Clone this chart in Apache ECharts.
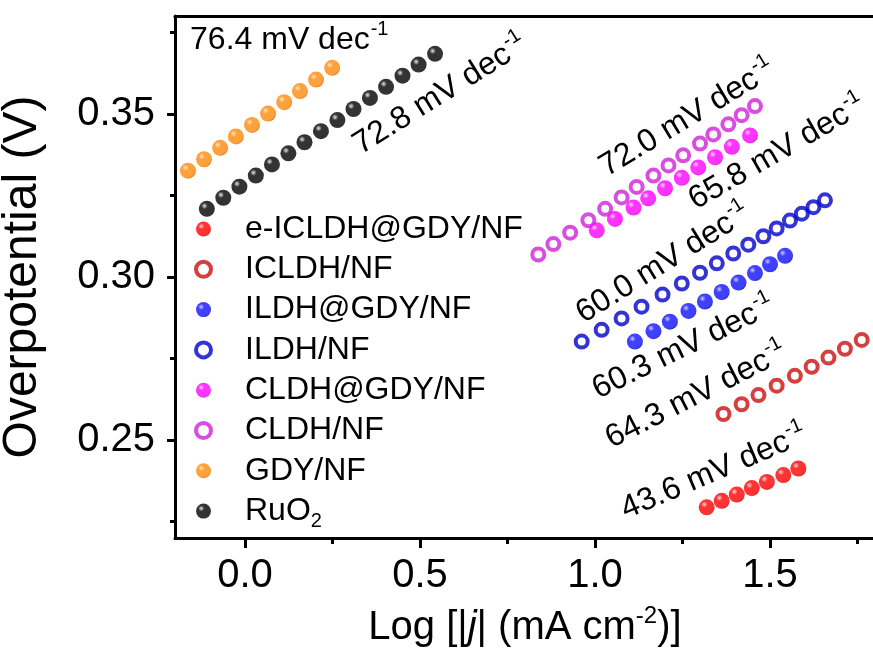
<!DOCTYPE html>
<html lang="en">
<head>
<meta charset="utf-8">
<title>Tafel plots</title>
<script src="https://cdn.jsdelivr.net/npm/echarts@6/dist/echarts.min.js"></script>
<style>
  html, body { margin: 0; padding: 0; background: #fff; }
  #main { width: 873px; height: 652px; }
</style>
</head>
<body>
<div id="main"></div>
<script>
// values: x = log|j|, y = overpotential (V)
var eIcldhGdyX = [1.319, 1.362, 1.405, 1.448, 1.491, 1.538, 1.581];
var eIcldhGdyY = [0.2294, 0.2314, 0.2333, 0.2353, 0.2372, 0.2393, 0.2413];

var icldhX = [1.367, 1.419, 1.467, 1.519, 1.571, 1.619, 1.667, 1.714, 1.762];
var icldhY = [0.2580, 0.2610, 0.2638, 0.2667, 0.2697, 0.2725, 0.2753, 0.2780, 0.2807];

var ildhGdyX = [1.114, 1.167, 1.214, 1.267, 1.314, 1.362, 1.410, 1.457, 1.500, 1.543];
var ildhGdyY = [0.2802, 0.2834, 0.2863, 0.2896, 0.2925, 0.2954, 0.2983, 0.3012, 0.3039, 0.3065];

var ildhX = [0.962, 1.019, 1.076, 1.133, 1.193, 1.248, 1.300, 1.348, 1.395, 1.438, 1.481, 1.519, 1.557, 1.591, 1.624, 1.657];
var ildhY = [0.2802, 0.2838, 0.2873, 0.2909, 0.2946, 0.2980, 0.3013, 0.3042, 0.3072, 0.3099, 0.3125, 0.3149, 0.3173, 0.3194, 0.3214, 0.3235];

var cldhGdyX = [1.005, 1.057, 1.110, 1.152, 1.200, 1.248, 1.295, 1.343, 1.391, 1.443];
var cldhGdyY = [0.3143, 0.3178, 0.3213, 0.3241, 0.3272, 0.3304, 0.3336, 0.3367, 0.3399, 0.3434];

var cldhX = [0.838, 0.881, 0.929, 0.981, 1.029, 1.076, 1.119, 1.167, 1.210, 1.252, 1.300, 1.338, 1.381, 1.419, 1.457];
var cldhY = [0.3069, 0.3101, 0.3136, 0.3174, 0.3209, 0.3244, 0.3276, 0.3311, 0.3342, 0.3373, 0.3409, 0.3437, 0.3468, 0.3496, 0.3524];

var gdyX = [-0.163, -0.117, -0.071, -0.026, 0.020, 0.066, 0.112, 0.157, 0.203, 0.249];
var gdyY = [0.3326, 0.3361, 0.3396, 0.3431, 0.3466, 0.3501, 0.3536, 0.3570, 0.3605, 0.3641];

var ruo2X = [-0.109, -0.062, -0.016, 0.031, 0.077, 0.124, 0.170, 0.217, 0.264, 0.310, 0.357, 0.403, 0.450, 0.496, 0.543];
var ruo2Y = [0.3209, 0.3243, 0.3277, 0.3311, 0.3345, 0.3379, 0.3413, 0.3447, 0.3481, 0.3515, 0.3549, 0.3583, 0.3617, 0.3651, 0.3684];

var seriesNames = ['e-ICLDH@GDY/NF', 'ICLDH/NF', 'ILDH@GDY/NF', 'ILDH/NF', 'CLDH@GDY/NF', 'CLDH/NF', 'GDY/NF', 'RuO2'];

var xTicks = [0.0, 0.5, 1.0, 1.5];
var xMinorTicks = [0.25, 0.75, 1.25, 1.75];
var yTicks = [0.25, 0.30, 0.35];
var yMinorTicks = [0.225, 0.275, 0.325, 0.375];

// slope labels: text, anchor (baseline-left, data coords), angle in degrees
var slopeLabels = [
  ['76.4 mV dec', -0.157, 0.3693, 0],
  ['72.8 mV dec', 0.334, 0.3369, 32],
  ['72.0 mV dec', 1.037, 0.3301, 31],
  ['65.8 mV dec', 1.291, 0.3200, 30],
  ['60.0 mV dec', 0.971, 0.2852, 32],
  ['60.3 mV dec', 1.012, 0.2620, 26],
  ['64.3 mV dec', 1.051, 0.2469, 27],
  ['43.6 mV dec', 1.091, 0.2252, 23]
];

var FONT = '"Liberation Sans", Arial, sans-serif';

function ball(base, dark, light) {
  return {
    type: 'radial', x: 0.35, y: 0.32, r: 0.72,
    colorStops: [
      { offset: 0, color: light },
      { offset: 0.28, color: base },
      { offset: 0.8, color: base },
      { offset: 1, color: dark }
    ]
  };
}

function pairs(xs, ys) {
  return xs.map(function (x, i) { return [x, ys[i]]; });
}

var styles = [
  { filled: true, color: ball('#ff0000', '#c00000', '#ffc8c8') },
  { filled: false, color: '#cc0f0f' },
  { filled: true, color: ball('#1010ff', '#0000b0', '#c0c0ff') },
  { filled: false, color: '#0000cc' },
  { filled: true, color: ball('#ff00ff', '#d000d0', '#ffd0ff') },
  { filled: false, color: '#d020d8' },
  { filled: true, color: ball('#ff8a0a', '#e06a00', '#ffe0c0') },
  { filled: true, color: ball('#000000', '#000000', '#e0e0e0') }
];

var dataSets = [
  pairs(eIcldhGdyX, eIcldhGdyY),
  pairs(icldhX, icldhY),
  pairs(ildhGdyX, ildhGdyY),
  pairs(ildhX, ildhY),
  pairs(cldhGdyX, cldhGdyY),
  pairs(cldhX, cldhY),
  pairs(gdyX, gdyY),
  pairs(ruo2X, ruo2Y)
];

function markStyle(st) {
  return st.filled
    ? { color: st.color }
    : { color: '#ffffff', borderColor: st.color, borderWidth: 4 };
}

var series = seriesNames.map(function (name, i) {
  var st = styles[i];
  return {
    name: name,
    type: 'scatter',
    xAxisIndex: 0,
    yAxisIndex: 0,
    z: st.filled ? 4 : 3,
    symbol: 'circle',
    symbolSize: st.filled ? 16 : 12,
    itemStyle: markStyle(st),
    emphasis: { disabled: true },
    data: dataSets[i]
  };
});

var legendData = seriesNames.map(function (name, i) {
  return { name: name, icon: 'circle', itemStyle: markStyle(styles[i]) };
});

var axisLineStyle = { color: '#000', width: 3 };

var myChart = echarts.init(document.getElementById('main'));

myChart.setOption({
  backgroundColor: '#fff',
  animation: false,
  grid: { left: 175, right: -2, top: 16, bottom: 114, containLabel: false, outerBoundsMode: 'none' },
  legend: {
    data: legendData,
    orient: 'vertical',
    left: 189,
    top: 204,
    itemWidth: 15,
    itemHeight: 15,
    itemGap: 0.3,
    selectedMode: false,
    textStyle: {
      fontFamily: FONT, fontSize: 32, color: '#000', lineHeight: 40,
      padding: [0, 0, 0, 29],
      rich: { sub: { fontFamily: FONT, fontSize: 20, lineHeight: 20, verticalAlign: 'bottom', color: '#000' } }
    },
    formatter: function (name) {
      return name === 'RuO2' ? 'RuO{sub|2}' : name;
    }
  },
  xAxis: [
    {
      type: 'value', min: -0.2, max: 1.8, position: 'bottom',
      name: 'Log [|{i|j}| (mA cm{s|-2})]',
      nameLocation: 'middle', nameGap: 66,
      nameTextStyle: {
        fontFamily: FONT, fontSize: 40, color: '#000', lineHeight: 48,
        rich: {
          i: { fontFamily: FONT, fontSize: 40, fontStyle: 'italic', color: '#000', lineHeight: 48 },
          s: { fontFamily: FONT, fontSize: 24, color: '#000', lineHeight: 24, verticalAlign: 'top' }
        }
      },
      axisLine: { onZero: false, lineStyle: axisLineStyle },
      axisTick: { customValues: xTicks, length: 10, lineStyle: { color: '#000', width: 3 } },
      axisLabel: {
        customValues: xTicks, margin: 18,
        fontFamily: FONT, fontSize: 40, color: '#000',
        formatter: function (v) { return v.toFixed(1); }
      },
      splitLine: { show: false }
    },
    {
      type: 'value', min: -0.2, max: 1.8, position: 'bottom',
      axisLine: { show: false, onZero: false },
      axisTick: { customValues: xMinorTicks, length: 6, lineStyle: { color: '#000', width: 3 } },
      axisLabel: { show: false },
      splitLine: { show: false }
    },
    {
      type: 'value', min: -0.2, max: 1.8, position: 'top',
      axisLine: { onZero: false, lineStyle: axisLineStyle },
      axisTick: { show: false },
      axisLabel: { show: false },
      splitLine: { show: false }
    }
  ],
  yAxis: [
    {
      type: 'value', min: 0.22, max: 0.38, position: 'left',
      name: 'Overpotential (V)',
      nameLocation: 'middle', nameRotate: 90, nameGap: 128,
      nameTextStyle: { fontFamily: FONT, fontSize: 48, color: '#000' },
      axisLine: { onZero: false, lineStyle: axisLineStyle },
      axisTick: { customValues: yTicks, length: 8, lineStyle: { color: '#000', width: 3 } },
      axisLabel: {
        customValues: yTicks, margin: 20,
        fontFamily: FONT, fontSize: 40, color: '#000',
        formatter: function (v) { return v.toFixed(2); }
      },
      splitLine: { show: false }
    },
    {
      type: 'value', min: 0.22, max: 0.38, position: 'left',
      axisLine: { show: false, onZero: false },
      axisTick: { customValues: yMinorTicks, length: 5, lineStyle: { color: '#000', width: 3 } },
      axisLabel: { show: false },
      splitLine: { show: false }
    }
  ],
  series: series
});

// slope annotations, placed through the grid's own scale
var graphics = slopeLabels.map(function (lab) {
  var p = myChart.convertToPixel({ gridIndex: 0 }, [lab[1], lab[2]]);
  return {
    type: 'text',
    x: p[0],
    y: p[1],
    rotation: lab[3] * Math.PI / 180,
    z: 10,
    style: {
      text: '{a|' + lab[0] + '}{s|-1}',
      x: 0,
      y: -11,
      align: 'left',
      verticalAlign: 'middle',
      textAlign: 'left',
      textVerticalAlign: 'middle',
      fill: '#000',
      rich: {
        a: { fontFamily: FONT, fontSize: 32, lineHeight: 40, fill: '#000', color: '#000' },
        s: { fontFamily: FONT, fontSize: 20, lineHeight: 20, verticalAlign: 'top', fill: '#000', color: '#000', padding: [0, 0, 0, 1] }
      }
    }
  };
});

myChart.setOption({ graphic: graphics });
</script>
</body>
</html>
